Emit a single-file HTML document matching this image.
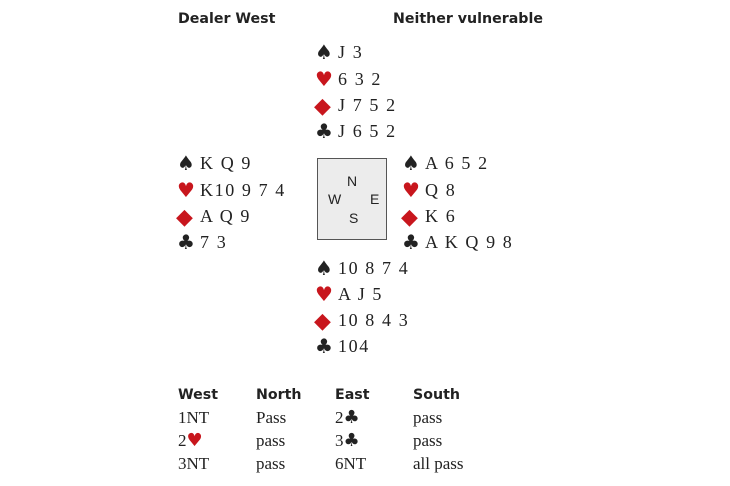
<!DOCTYPE html>
<html><head><style>
body{margin:0;width:730px;height:486px;background:#fff;position:relative;overflow:hidden;font-family:"Liberation Serif",serif;color:#222}
.h{position:absolute;font-family:"DejaVu Sans","Liberation Sans",sans-serif;font-weight:bold;font-size:14.2px;line-height:18px}
.l{position:absolute;font-size:18px;line-height:20px;height:20px;white-space:pre;letter-spacing:1.6px}
.s{display:inline-block;width:23px;height:20px;vertical-align:top;font-family:"DejaVu Sans",sans-serif;font-size:20px;line-height:20px;letter-spacing:0}
.d{font-size:22px;position:relative;top:2px;left:-1px}
.r{color:#c8161d}
.t{position:absolute;font-size:17px;line-height:20px;white-space:pre}
.t .c{font-family:"DejaVu Sans",sans-serif;font-size:18px}
.box{position:absolute;left:317px;top:158px;width:68px;height:80px;background:#ececec;border:1.5px solid #555;font-family:"Liberation Sans",sans-serif;font-size:14px}
.box span{position:absolute}
</style></head><body>
<div class="h" style="left:178px;top:10px">Dealer West</div>
<div class="h" style="left:393px;top:10px">Neither vulnerable</div>

<div class="l" style="left:315px;top:42px"><span class="s">♠</span>J 3</div>
<div class="l" style="left:315px;top:69px"><span class="s r">♥</span>6 3 2</div>
<div class="l" style="left:315px;top:95px"><span class="s r d">◆</span>J 7 5 2</div>
<div class="l" style="left:315px;top:121px"><span class="s">♣</span>J 6 5 2</div>

<div class="l" style="left:177px;top:153px"><span class="s">♠</span>K Q 9</div>
<div class="l" style="left:177px;top:180px"><span class="s r">♥</span>K10 9 7 4</div>
<div class="l" style="left:177px;top:206px"><span class="s r d">◆</span>A Q 9</div>
<div class="l" style="left:177px;top:232px"><span class="s">♣</span>7 3</div>

<div class="box"><span style="left:29px;top:14px">N</span><span style="left:10px;top:32px">W</span><span style="left:52px;top:32px">E</span><span style="left:31px;top:51px">S</span></div>

<div class="l" style="left:402px;top:153px"><span class="s">♠</span>A 6 5 2</div>
<div class="l" style="left:402px;top:180px"><span class="s r">♥</span>Q 8</div>
<div class="l" style="left:402px;top:206px"><span class="s r d">◆</span>K 6</div>
<div class="l" style="left:402px;top:232px"><span class="s">♣</span>A K Q 9 8</div>

<div class="l" style="left:315px;top:258px"><span class="s">♠</span>10 8 7 4</div>
<div class="l" style="left:315px;top:284px"><span class="s r">♥</span>A J 5</div>
<div class="l" style="left:315px;top:310px"><span class="s r d">◆</span>10 8 4 3</div>
<div class="l" style="left:315px;top:336px"><span class="s">♣</span>104</div>

<div class="h" style="left:178px;top:386px">West</div>
<div class="h" style="left:256px;top:386px">North</div>
<div class="h" style="left:335px;top:386px">East</div>
<div class="h" style="left:413px;top:386px">South</div>
<div class="t" style="left:178px;top:408px">1NT</div>
<div class="t" style="left:256px;top:408px">Pass</div>
<div class="t" style="left:335px;top:408px">2<span class="c">♣</span></div>
<div class="t" style="left:413px;top:408px">pass</div>
<div class="t" style="left:178px;top:431px">2<span class="c r">♥</span></div>
<div class="t" style="left:256px;top:431px">pass</div>
<div class="t" style="left:335px;top:431px">3<span class="c">♣</span></div>
<div class="t" style="left:413px;top:431px">pass</div>
<div class="t" style="left:178px;top:454px">3NT</div>
<div class="t" style="left:256px;top:454px">pass</div>
<div class="t" style="left:335px;top:454px">6NT</div>
<div class="t" style="left:413px;top:454px">all pass</div>
</body></html>
